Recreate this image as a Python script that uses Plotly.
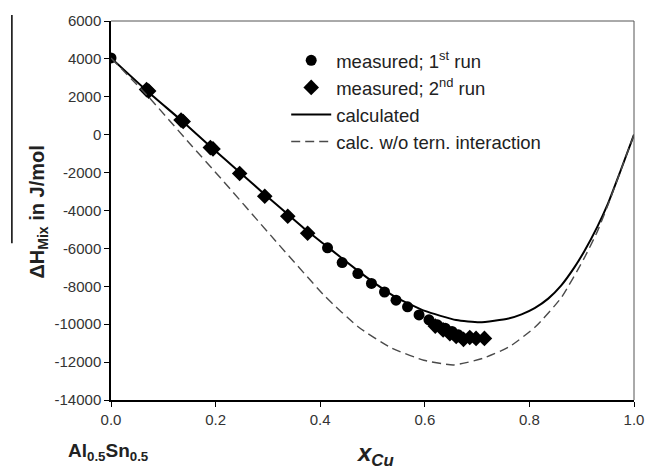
import plotly.graph_objects as go

# --- data ---
run1_x = [0.0, 0.414, 0.442, 0.472, 0.498, 0.523, 0.545, 0.567, 0.589, 0.608, 0.624, 0.639, 0.652, 0.664, 0.672]
run1_y = [4050, -5970, -6750, -7330, -7850, -8300, -8730, -9080, -9510, -9770, -10030, -10210, -10380, -10560, -10750]

run2_x = [0.068, 0.072, 0.134, 0.138, 0.190, 0.195, 0.246, 0.294, 0.338, 0.376,
          0.620, 0.635, 0.648, 0.660, 0.674, 0.686, 0.698, 0.714]
run2_y = [2380, 2300, 770, 700, -680, -750, -2050, -3250, -4300, -5200,
          -10100, -10300, -10500, -10650, -10800, -10700, -10750, -10750]

calc_x = [0.0, 0.07, 0.136, 0.19, 0.246, 0.294, 0.338, 0.376, 0.414, 0.473, 0.50, 0.545, 0.60,
          0.66, 0.705, 0.76, 0.785, 0.81, 0.836, 0.861, 0.886, 0.905, 0.93, 0.95, 0.975, 1.0]
calc_y = [4050, 2280, 720, -620, -1980, -3150, -4200, -5100, -5920, -7200, -7750, -8580, -9300,
          -9780, -9900, -9700, -9480, -9150, -8650, -7950, -7000, -6150, -4850, -3650, -1850, 0]

noint_x = [0.0, 0.07, 0.15, 0.21, 0.305, 0.41, 0.473, 0.536, 0.598, 0.655, 0.711, 0.761, 0.811,
           0.861, 0.905, 0.93, 0.95, 0.975, 1.0]
noint_y = [4050, 2050, -450, -2300, -5300, -8550, -10150, -11250, -11900, -12150, -11800, -11200,
           -10150, -8600, -6500, -5100, -3720, -1860, 0]

x_ticks = [0.0, 0.2, 0.4, 0.6, 0.8, 1.0]
x_labels = ["0.0", "0.2", "0.4", "0.6", "0.8", "1.0"]
y_ticks = [-14000, -12000, -10000, -8000, -6000, -4000, -2000, 0, 2000, 4000, 6000]
y_labels = ["-14000", "-12000", "-10000", "-8000", "-6000", "-4000", "-2000", "0", "2000", "4000", "6000"]

FONT = "Liberation Sans, Arial, sans-serif"

fig = go.Figure()
fig.add_trace(go.Scatter(x=run1_x, y=run1_y, mode="markers", name="measured; 1<sup>st</sup> run",
                         marker=dict(symbol="circle", size=11, color="black")))
fig.add_trace(go.Scatter(x=run2_x, y=run2_y, mode="markers", name="measured; 2<sup>nd</sup> run",
                         marker=dict(symbol="diamond", size=12, color="black")))
fig.add_trace(go.Scatter(x=calc_x, y=calc_y, mode="lines", name="calculated",
                         line=dict(color="black", width=2, shape="spline", smoothing=0.5)))
fig.add_trace(go.Scatter(x=noint_x, y=noint_y, mode="lines", name="calc. w/o tern. interaction",
                         line=dict(color="#4a4a4a", width=1.4, dash="9px,5px", shape="spline", smoothing=0.5)))

fig.update_layout(
    width=656, height=471,
    margin=dict(l=111, r=12, t=18, b=71),
    paper_bgcolor="white", plot_bgcolor="white",
    font=dict(family=FONT, color="#333333", size=15),
    showlegend=True,
    legend=dict(x=0.335, y=0.945, xanchor="left", yanchor="top",
                bgcolor="rgba(0,0,0,0)", font=dict(size=18.5, color="#222222"),
                tracegroupgap=0, itemwidth=40),
    xaxis=dict(range=[0, 1], tickvals=x_ticks, ticktext=x_labels, showgrid=False, zeroline=False,
               showline=True, linecolor="black", linewidth=1.5, ticks="outside", ticklen=5,
               tickcolor="black", tickfont=dict(size=15, color="#333333")),
    yaxis=dict(range=[-14000, 6000], tickvals=y_ticks, ticktext=y_labels, showgrid=False, zeroline=False,
               showline=True, linecolor="black", linewidth=1.5, ticks="outside", ticklen=5,
               tickcolor="black", tickfont=dict(size=15, color="#333333")),
)

# top and right frame lines
fig.add_shape(type="line", xref="paper", yref="paper", x0=0, x1=1, y0=1, y1=1,
              line=dict(color="#555555", width=1))
fig.add_shape(type="line", xref="paper", yref="paper", x0=1, x1=1, y0=0, y1=1,
              line=dict(color="#555555", width=1))
# overbar of the y title
fig.add_shape(type="line", xref="paper", yref="paper", x0=-0.1895, x1=-0.1895, y0=0.4136, y1=1.0157,
              line=dict(color="black", width=1.5))

fig.add_annotation(text="<b>ΔH<sub>Mix</sub> in J/mol</b>", textangle=-90, xref="paper", yref="paper",
                   x=-0.167, y=0.495, showarrow=False, font=dict(size=20, color="#222222"))
fig.add_annotation(text="<b>Al<sub>0.5</sub>Sn<sub>0.5</sub></b>", xref="paper", yref="paper",
                   x=-0.086, y=-0.175, xanchor="left", showarrow=False, font=dict(size=19, color="#222222"))
fig.add_annotation(text="<b><i>x<sub>Cu</sub></i></b>", xref="paper", yref="paper",
                   x=0.505, y=-0.19, showarrow=False, font=dict(size=24, color="#222222"))

fig.write_html("out.html")
